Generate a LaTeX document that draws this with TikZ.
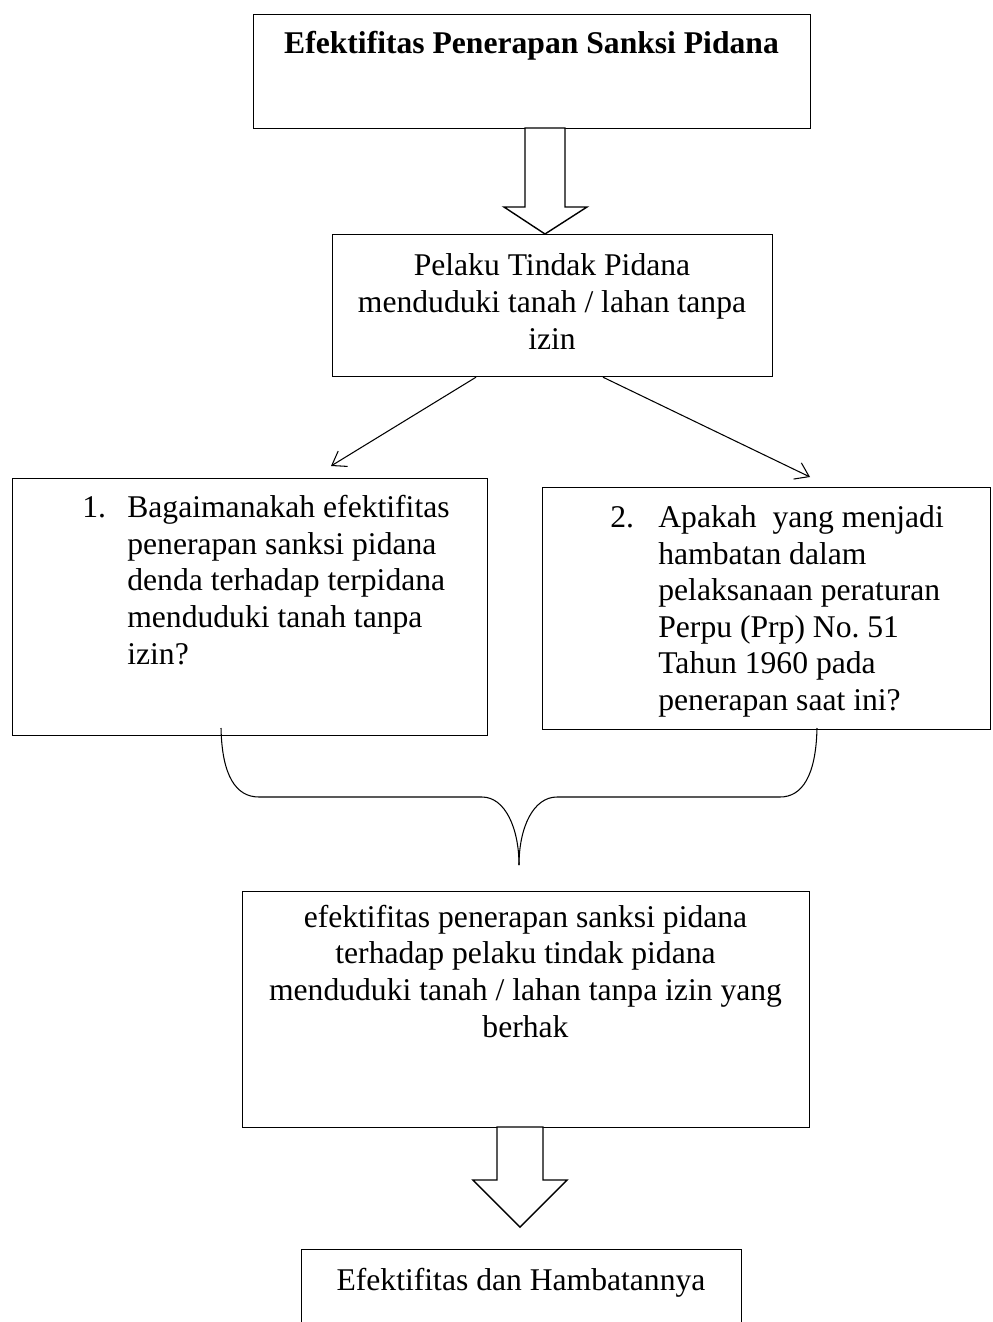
\documentclass[tikz,border=0pt]{standalone}
\usepackage{fontspec}
\setmainfont{Liberation Serif}
\usetikzlibrary{positioning,arrows.meta,calc}

\begin{document}
\begin{tikzpicture}[x=0.02cm,y=-0.02cm,>={Straight Barb[length=2.6mm,width=3.6mm]},
  kotak/.style={draw,line width=0.7pt,anchor=north west,inner sep=0pt},
  teks/.style={font=\fontsize{18}{20.8}\selectfont,inner sep=0pt},
  garis/.style={line width=0.6pt}]
  \clip (0,0) rectangle (993,1322);
  % kotak-kotak
  \node[kotak,minimum width=11.14cm,minimum height=2.28cm] (judul) at (253,14) {};
  \node[kotak,minimum width=8.8cm,minimum height=2.84cm] (pelaku) at (332,234) {};
  \node[kotak,minimum width=9.5cm,minimum height=5.14cm] (soal1) at (12,478) {};
  \node[kotak,minimum width=8.96cm,minimum height=4.84cm] (soal2) at (542,487) {};
  \node[kotak,minimum width=11.34cm,minimum height=4.72cm] (hasil) at (242,891) {};
  \node[kotak,minimum width=8.8cm,minimum height=3cm] (akhir) at (301,1249) {};
  % teks (base = baris terakhir)
  \node[teks,anchor=base,font=\fontsize{18}{20.8}\selectfont\bfseries] (judulteks) at (531.5,53) {Efektifitas Penerapan Sanksi Pidana};
  \node[teks,anchor=base,align=center] (pelakuteks) at (552,349) {Pelaku Tindak Pidana\\menduduki tanah / lahan tanpa\\izin};
  \node[teks,anchor=base west] (nomor1) at (82,517) {1.};
  \node[teks,anchor=base west,align=left] (soal1teks) at (127,664) {Bagaimanakah efektifitas\\penerapan sanksi pidana\\denda terhadap terpidana\\menduduki tanah tanpa\\izin?};
  \node[teks,anchor=base west] (nomor2) at (610,527) {2.};
  \node[teks,anchor=base west,align=left] (soal2teks) at (658,710.5) {Apakah~ yang menjadi\\hambatan dalam\\pelaksanaan peraturan\\Perpu (Prp) No.\ 51\\Tahun 1960 pada\\penerapan saat ini?};
  \node[teks,anchor=base,align=center] (hasilteks) at (525.5,1037) {efektifitas penerapan sanksi pidana\\terhadap pelaku tindak pidana\\menduduki tanah / lahan tanpa izin yang\\berhak};
  \node[teks,anchor=base] (akhirteks) at (521,1290) {Efektifitas dan Hambatannya};
  % panah
  \coordinate (ujungkiri) at (331,466);
  \coordinate (ujungkanan) at (810,477);
  \draw[garis,->] ($(pelaku.south west)+(144,0)$) -- (ujungkiri);
  \draw[garis,->] ($(pelaku.south west)+(271,0)$) -- (ujungkanan);
  \draw[line width=0.8pt,fill=white] (525,128) -- (525,207) -- (504,207) -- (545,234) -- (587,207) -- (565,207) -- (565,128) -- cycle;
  \draw[line width=0.8pt,fill=white] (497,1127) -- (497,1180) -- (473,1180) -- (520,1227) -- (567,1180) -- (543,1180) -- (543,1127) -- cycle;
  % kurung kurawal
  \draw[garis] (221,728) .. controls (222,776) and (236,797) .. (259,797) -- (482,797)
    .. controls (505,797) and (519,828) .. (519,865);
  \draw[garis] (817,728) .. controls (816,776) and (802,797) .. (780,797) -- (557,797)
    .. controls (533,797) and (519,828) .. (519,865);
\end{tikzpicture}
\end{document}
